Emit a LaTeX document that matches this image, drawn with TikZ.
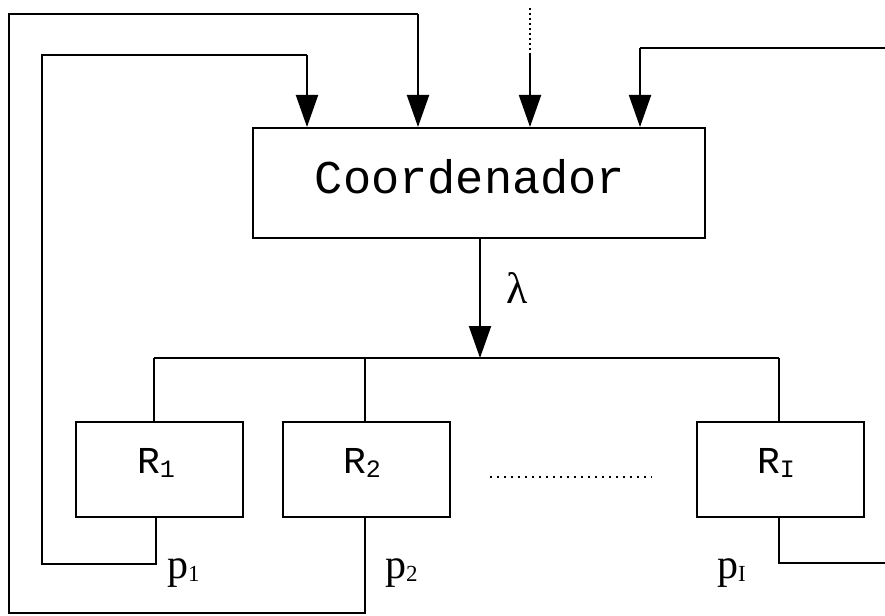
\documentclass[tikz,border=0pt]{standalone}
\usepackage{fontspec}
\setmainfont{Liberation Serif}
\newfontfamily\monofont{Liberation Mono}
\usetikzlibrary{arrows.meta}

% subscript helpers: a lowered small index
\newcommand{\monosub}[1]{{\fontsize{25}{25}\selectfont\raisebox{-4pt}{#1}}}
\newcommand{\serifsub}[1]{{\fontsize{23}{23}\selectfont\raisebox{-3pt}{#1}}}

\begin{document}
\begin{tikzpicture}[x=1pt, y=-1pt, line width=2pt,
  coordbox/.style={draw, line width=2pt, minimum width=452pt, minimum height=110pt, inner sep=0pt},
  relbox/.style={draw, line width=2pt, minimum width=167pt, minimum height=95pt, inner sep=0pt},
  flow/.style={-{Triangle[width=22pt,length=32pt]}},
  lbl/.style={inner sep=0pt, anchor=base},
  rlbl/.style={inner sep=0pt, anchor=base, font=\monofont\fontsize{38}{38}\selectfont},
  plbl/.style={inner sep=0pt, anchor=base west, font=\fontsize{42}{42}\selectfont},
  wire/.style={line width=2pt}]
\useasboundingbox (0,0) rectangle (885,615);

% coordinator and the subsystems
\node[coordbox] (coord) at (479,183) {};
\node[lbl, font=\monofont\fontsize{47}{47}\selectfont] (coordtxt) at (470,193) {Coordenador};

\node[relbox] (r1) at (159.5,469.5) {};
\node[relbox] (r2) at (366.5,469.5) {};
\node[relbox] (rI) at (780.5,469.5) {};

\node[rlbl] (r1txt) at (156,473) {R\monosub{1}};
\node[rlbl] (r2txt) at (362,473) {R\monosub{2}};
\node[rlbl] (rItxt) at (776,473) {R\monosub{I}};

% labels
\node[lbl, font=\fontsize{44}{44}\selectfont] (lam) at (517,303) {λ};
\node[plbl] (p1) at (166,578) {p\serifsub{1}};
\node[plbl] (p2) at (384,578) {p\serifsub{2}};
\node[plbl] (pI) at (716,578) {p\serifsub{I}};

% distribution bus
\coordinate (bus) at (480,358);
\coordinate (busL) at (154,358);
\coordinate (busR) at (779,358);
\draw[wire] (busL) -- (busR);
\draw[wire] (busL) -- (busL |- r1.north);
\draw[wire] (365,358) -- (365,358 |- r2.north);
\draw[wire] (busR) -- (busR |- rI.north);
\draw[flow] (coord.south -| bus) -- (bus);

% feedback from R1 (inner loop)
\coordinate (f1a) at (156,564);
\coordinate (f1b) at (42,564);
\coordinate (f1c) at (42,55);
\coordinate (f1d) at (307,55);
\draw[wire] (f1a |- r1.south) -- (f1a) -- (f1b) -- (f1c) -- (f1d);
\draw[flow] (f1d) -- (f1d |- coord.north);

% feedback from R2 (outer loop)
\coordinate (f2a) at (365,613);
\coordinate (f2b) at (9,613);
\coordinate (f2c) at (9,14);
\coordinate (f2d) at (418,14);
\draw[wire] (f2a |- r2.south) -- (f2a) -- (f2b) -- (f2c) -- (f2d);
\draw[flow] (f2d) -- (f2d |- coord.north);

% feedback from RI (leaves at the right edge)
\coordinate (fIa) at (779,563);
\coordinate (fIb) at (885,563);
\draw[wire] (fIa |- rI.south) -- (fIa) -- (fIb);

% return from the right edge
\coordinate (fIc) at (885,48);
\coordinate (fId) at (640,48);
\draw[wire] (fIc) -- (fId);
\draw[flow] (fId) -- (fId |- coord.north);

% further inputs (dotted)
\coordinate (inTop) at (530,8);
\coordinate (inMid) at (530,53);
\draw[line width=2pt, dash pattern=on 2pt off 3pt] (inTop) -- (inMid);
\draw[flow] (inMid) -- (inMid |- coord.north);

% omitted subsystems
\coordinate (dotsL) at (490,477);
\coordinate (dotsR) at (652,477);
\draw[line width=1.6pt, dash pattern=on 2pt off 5pt] (dotsL) -- (dotsR);
\end{tikzpicture}
\end{document}
